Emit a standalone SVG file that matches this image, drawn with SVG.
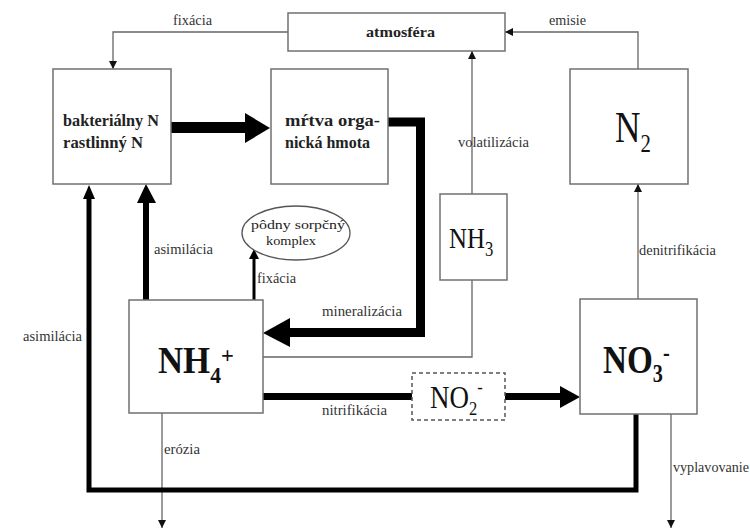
<svg xmlns="http://www.w3.org/2000/svg" width="750" height="530" viewBox="0 0 750 530">
<style>
.box{fill:#fff;stroke:#707070;stroke-width:1.5}
.dash{fill:#fff;stroke:#555;stroke-width:1.5;stroke-dasharray:4 3}
.thin{fill:none;stroke:#666;stroke-width:1.3}
.thick{fill:none;stroke:#000}
.head{fill:#000}
.lbl{font-family:'Liberation Serif','DejaVu Serif',serif;font-size:14px;fill:#333}
.bt{font-family:'Liberation Serif','DejaVu Serif',serif;font-size:16px;font-weight:bold;fill:#222}
.big{font-family:'Liberation Serif','DejaVu Serif',serif;fill:#111}
.el{font-family:'Liberation Serif','DejaVu Serif',serif;font-size:12.5px;fill:#222}
</style>
<defs>
<marker id="ar" viewBox="0 0 10 10" refX="10" refY="5" markerWidth="8" markerHeight="8" markerUnits="userSpaceOnUse" orient="auto">
<path d="M0,0 L10,5 L0,10 z" fill="#111"/>
</marker>
</defs>
<rect width="750" height="530" fill="#fff"/>
<g id="connectors">
<path class="thin" d="M288,32 H113 V69" marker-end="url(#ar)"/>
<path class="thin" d="M638,69 V32 H505" marker-end="url(#ar)"/>
<path class="thin" d="M472,194 V51" marker-end="url(#ar)"/>
<path class="thin" d="M472,280 V357 H263"/>
<path class="thin" d="M638,299 V184" marker-end="url(#ar)"/>
<path class="thin" d="M162,413 V528" marker-end="url(#ar)"/>
<path class="thin" d="M671,414 V528" marker-end="url(#ar)"/>
<path class="thick" stroke-width="3" d="M254,300 V258"/>
<polygon class="head" points="249,259 254,249 259,259"/>
<path class="thick" stroke-width="11" d="M171,127.5 H246"/>
<polygon class="head" points="245,113 270,128 245,143"/>
<path class="thick" stroke-width="6" d="M146,300 V202"/>
<polygon class="head" points="137,203 146,184 156,203"/>
<path class="thick" stroke-width="5" stroke-linejoin="miter" d="M636,414 V490 H89 V198"/>
<polygon class="head" points="83,199 89,185 95,199"/>
<path class="thick" stroke-width="9" stroke-linejoin="miter" d="M388,122 H420.5 V332.5 H289"/>
<polygon class="head" points="290,318 263,333 290,347"/>
<path class="thick" stroke-width="7" d="M263,396.5 H412"/>
<path class="thick" stroke-width="7" d="M505,396.5 H561"/>
<polygon class="head" points="560,386 580,397 560,408"/>
</g>
<g id="labels">
<text class="lbl" x="173" y="25" textLength="39" lengthAdjust="spacingAndGlyphs">fixácia</text>
<text class="lbl" x="549" y="25" textLength="37" lengthAdjust="spacingAndGlyphs">emisie</text>
<text class="lbl" x="458" y="147" textLength="71" lengthAdjust="spacingAndGlyphs">volatilizácia</text>
<text class="lbl" x="154" y="254" textLength="59" lengthAdjust="spacingAndGlyphs">asimilácia</text>
<text class="lbl" x="23" y="341" textLength="59" lengthAdjust="spacingAndGlyphs">asimilácia</text>
<text class="lbl" x="257" y="283" textLength="39" lengthAdjust="spacingAndGlyphs">fixácia</text>
<text class="lbl" x="322" y="316" textLength="80" lengthAdjust="spacingAndGlyphs">mineralizácia</text>
<text class="lbl" x="322" y="415" textLength="65" lengthAdjust="spacingAndGlyphs">nitrifikácia</text>
<text class="lbl" x="164" y="454" textLength="36" lengthAdjust="spacingAndGlyphs">erózia</text>
<text class="lbl" x="673" y="472" textLength="76" lengthAdjust="spacingAndGlyphs">vyplavovanie</text>
<text class="lbl" x="639" y="255" textLength="77" lengthAdjust="spacingAndGlyphs">denitrifikácia</text>
</g>
<g id="atmosfera">
<rect class="box" x="288" y="13" width="217" height="38"/>
<text class="bt" x="366" y="37" style="font-size:15px" textLength="69" lengthAdjust="spacingAndGlyphs">atmosféra</text>
</g>
<g id="bakterialny">
<rect class="box" x="53" y="69" width="118" height="115"/>
<text class="bt" x="63" y="126" textLength="96" lengthAdjust="spacingAndGlyphs">bakteriálny N</text>
<text class="bt" x="63" y="148" textLength="80" lengthAdjust="spacingAndGlyphs">rastlinný N</text>
</g>
<g id="mrtva">
<rect class="box" x="271" y="69" width="117" height="115"/>
<text class="bt" x="285" y="126" textLength="95" lengthAdjust="spacingAndGlyphs">mŕtva orga-</text>
<text class="bt" x="285" y="148" textLength="85" lengthAdjust="spacingAndGlyphs">nická hmota</text>
</g>
<g id="n2">
<rect class="box" x="570" y="69" width="118" height="115"/>
<text class="big" transform="translate(615,142) scale(0.8,1)" style="font-size:44px">N<tspan dy="10" style="font-size:26px">2</tspan></text>
</g>
<g id="nh3">
<rect class="box" x="440" y="194" width="67" height="86"/>
<text class="big" transform="translate(449,248) scale(0.83,1)" style="font-size:30px">NH<tspan dy="8" style="font-size:20px">3</tspan></text>
</g>
<g id="sorpcny">
<ellipse cx="296" cy="233" rx="54" ry="27" fill="#fff" stroke="#555" stroke-width="1.3"/>
<text class="el" x="251" y="229" textLength="94" lengthAdjust="spacingAndGlyphs">pôdny sorpčný</text>
<text class="el" x="266" y="245" textLength="50" lengthAdjust="spacingAndGlyphs">komplex</text>
</g>
<g id="nh4">
<rect class="box" x="129" y="300" width="134" height="113"/>
<text class="big" font-weight="bold" transform="translate(158,373) scale(0.94,1)" style="font-size:37px">NH<tspan dy="10" style="font-size:23px">4</tspan><tspan dy="-20" style="font-size:24px">+</tspan></text>
</g>
<g id="no3">
<rect class="box" x="580" y="299" width="117" height="115"/>
<text class="big" font-weight="bold" transform="translate(603,373) scale(0.81,1)" style="font-size:41px">NO<tspan dy="9" style="font-size:25px">3</tspan><tspan dy="-21" style="font-size:25px">-</tspan></text>
</g>
<g id="no2">
<rect class="dash" x="412" y="373" width="93" height="47"/>
<text class="big" transform="translate(430,408) scale(0.87,1)" style="font-size:31px">NO<tspan dy="7" style="font-size:19px">2</tspan><tspan dy="-22" style="font-size:19px">-</tspan></text>
</g>
</svg>
